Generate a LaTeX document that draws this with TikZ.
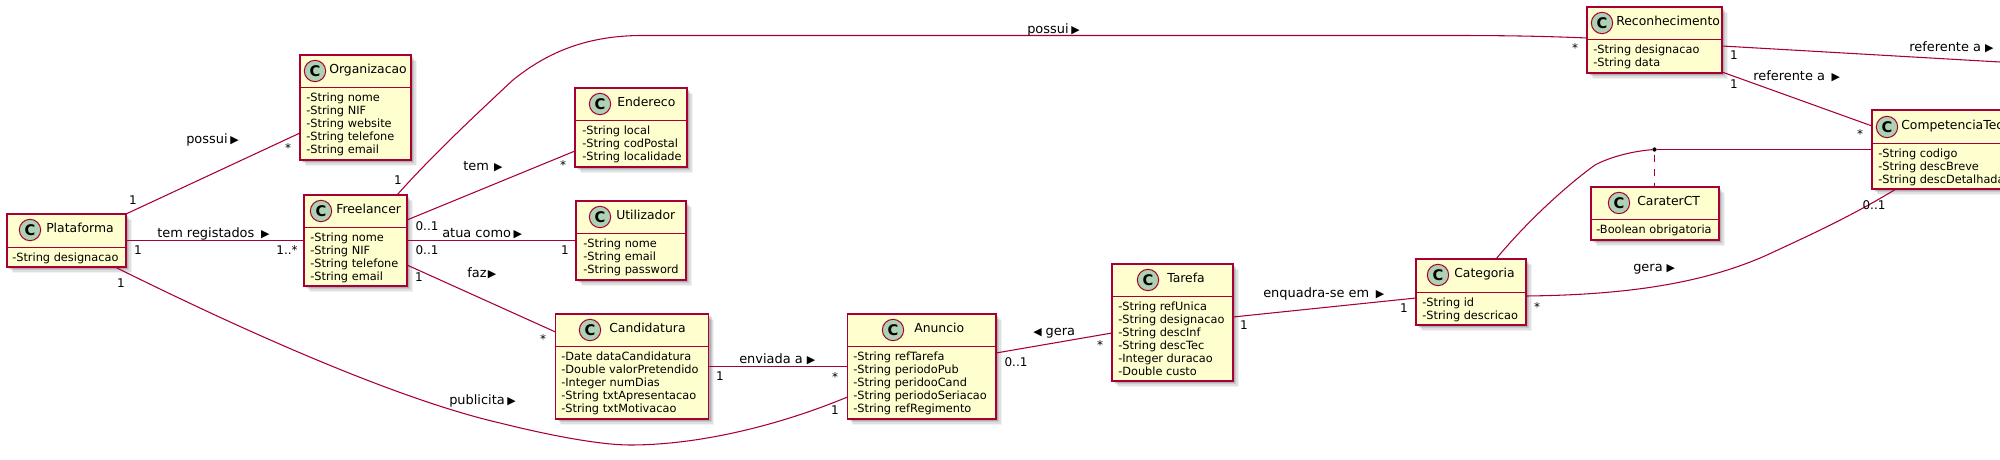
\documentclass[tikz,border=0pt]{standalone}
\usepackage{fontspec}
\setmainfont{DejaVu Sans}
\usetikzlibrary{shadows,calc}
\definecolor{umlline}{HTML}{A80036}
\definecolor{umlfill}{HTML}{FEFECE}
\definecolor{umlspot}{HTML}{ADD1B2}
\newcommand{\tit}{\fontsize{9.3pt}{11pt}\selectfont}
\newcommand{\att}{\fontsize{8.5pt}{9.75pt}\selectfont}
\newcommand{\lbl}{\fontsize{9.7pt}{11pt}\selectfont}
\newcommand{\mul}{\fontsize{9pt}{11pt}\selectfont}
\newcommand{\tri}{{\fontsize{8.2pt}{9pt}\selectfont ▶}}
\newcommand{\trl}{{\fontsize{8.2pt}{9pt}\selectfont ◀}}
\tikzset{
  classbox/.style={draw=umlline,fill=umlfill,line width=1.1pt,rectangle,inner sep=0pt,outer sep=0pt,anchor=north west,
    general shadow={shadow xshift=1.8pt,shadow yshift=-1.8pt,fill=black,opacity=.12},
    general shadow={shadow xshift=2.6pt,shadow yshift=-2.6pt,fill=black,opacity=.10},
    general shadow={shadow xshift=3.4pt,shadow yshift=-3.4pt,fill=black,opacity=.08},
    general shadow={shadow xshift=4.2pt,shadow yshift=-4.2pt,fill=black,opacity=.05}},
  spot/.style={circle,draw=umlline,fill=umlspot,line width=.75pt,minimum size=16pt,inner sep=0pt,outer sep=0pt,font=\fontsize{11pt}{11pt}\selectfont\bfseries},
  titletext/.style={anchor=west,inner sep=0pt,font=\tit},
  attrtext/.style={anchor=north west,inner sep=0pt,align=left,font=\att},
  rel/.style={draw=umlline,line width=.8pt},
  reltext/.style={anchor=base west,inner sep=0pt,font=\lbl,text=black},
  multtext/.style={anchor=base,inner sep=0pt,font=\mul,text=black},
}
\newcommand{\cls}[6]{%
  \node[classbox,minimum width={(#4-#2)*.75pt},minimum height={(#5-#3)*.75pt}] (#1) at (#2,#3) {};
  \draw[draw=umlline,line width=.75pt] (#1.west |- 0,#6) -- (#1.east |- 0,#6);}
\newcommand{\hdr}[5]{%
  \node[spot] (#1c) at (#2,#3) {C};
  \node[titletext] (#1t) at (#4,#3) {\strut #5};}
\newcommand{\attrs}[4]{\node[attrtext] (#1a) at (#2,#3+2.5) {#4};}
\newcommand{\lab}[4]{\node[reltext] (#1) at (#2,#3+4.5) {#4};}
\newcommand{\mult}[4]{\node[multtext] (#1) at (#2,#3+4.5) {#4};}
\newcommand{\mstar}[3]{\node[multtext] (#1) at (#2,#3+7) {*};}
\begin{document}
\begin{tikzpicture}[x=.75pt,y=-.75pt]
\useasboundingbox (0,0) rectangle (2000,460);
\clip (0,0) rectangle (2000,460);

\cls{plat}{7}{214}{126}{267}{247.5}
\hdr{plat}{30}{230}{46}{Plataforma}
\attrs{plat}{12}{250}{-String designacao}

\cls{org}{300}{55}{411}{160}{87.5}
\hdr{org}{315}{71}{329}{Organizacao}
\attrs{org}{306}{90}{-String nome\\-String NIF\\-String website\\-String telefone\\-String email}

\cls{free}{304}{195}{407}{286}{227.5}
\hdr{free}{321}{211}{336}{Freelancer}
\attrs{free}{310}{230}{-String nome\\-String NIF\\-String telefone\\-String email}

\cls{end}{575}{88}{687}{167}{120.5}
\hdr{end}{600}{104}{617}{Endereco}
\attrs{end}{582}{123}{-String local\\-String codPostal\\-String localidade}

\cls{util}{576}{201}{686}{280}{233.5}
\hdr{util}{600}{217}{616}{Utilizador}
\attrs{util}{583}{236}{-String nome\\-String email\\-String password}

\cls{cand}{555.5}{314}{708.5}{419}{346.5}
\hdr{cand}{590}{330}{609}{Candidatura}
\attrs{cand}{561}{349}{-Date dataCandidatura\\-Double valorPretendido\\-Integer numDias\\-String txtApresentacao\\-String txtMotivacao}

\cls{anun}{847.5}{314}{996}{419}{346.5}
\hdr{anun}{893}{330}{914}{Anuncio}
\attrs{anun}{853}{349}{-String refTarefa\\-String periodoPub\\-String peridooCand\\-String periodoSeriacao\\-String refRegimento}

\cls{tar}{1112}{264}{1233}{381}{296.5}
\hdr{tar}{1148}{280}{1167}{Tarefa}
\attrs{tar}{1118}{299}{-String refUnica\\-String designacao\\-String descInf\\-String descTec\\-Integer duracao\\-Double custo}

\cls{cat}{1416}{259}{1526}{325}{292.5}
\hdr{cat}{1438}{275}{1454}{Categoria}
\attrs{cat}{1422}{295}{-String id\\-String descricao}

\cls{rec}{1587}{7}{1722}{73}{39.5}
\hdr{rec}{1602}{23}{1616}{Reconhecimento}
\attrs{rec}{1593}{42}{-String designacao\\-String data}

\cls{car}{1591}{187}{1719}{240}{219.5}
\hdr{car}{1619}{203}{1637}{CaraterCT}
\attrs{car}{1596}{222}{-Boolean obrigatoria}

\cls{comp}{1872}{110}{2040}{189}{143.5}
\hdr{comp}{1887}{127}{1901}{CompetenciaTecnica}
\attrs{comp}{1878}{146}{-String codigo\\-String descBreve\\-String descDetalhada}

\node[circle,fill=black,inner sep=0pt,minimum size=3.2pt] (ap) at (1654.5,149.5) {};
\coordinate (recout) at (2040,64.3);

\draw[rel] (126,0 |- plat.north) -- (org.west |- 0,133);
\draw[rel] (plat.east |- 0,240.5) -- (free.west |- 0,240.5);
\draw[rel] (115,0 |- plat.south) .. controls (250,334) and (400,400) .. (500,423)
   .. controls (560,438) and (605,445) .. (630,445)
   .. controls (700,445) and (780,425) .. (anun.west |- 0,397);
\draw[rel] (397,0 |- free.north) .. controls (430,158) and (470,120) .. (513,80)
   .. controls (550,50) and (590,36) .. (640,35.5) -- (1450,35.5)
   .. controls (1500,35.5) and (1540,36) .. (rec.west |- 0,38);
\draw[rel] (free.east |- 0,220) -- (end.west |- 0,151);
\draw[rel] (free.east |- 0,240.5) -- (util.west |- 0,240.5);
\draw[rel] (free.east |- 0,265) -- (cand.west |- 0,332);
\draw[rel] (cand.east |- 0,366.5) -- (anun.west |- 0,366.5);
\draw[rel] (anun.east |- 0,353) -- (tar.west |- 0,333);
\draw[rel] (tar.east |- 0,317) -- (cat.west |- 0,298);
\draw[rel] (cat.east |- 0,296) .. controls (1620,295) and (1700,285) .. (1767,255)
   .. controls (1810,235) and (1850,217) .. (1896,0 |- comp.south);
\draw[rel] (1496,0 |- cat.north) .. controls (1530,218) and (1570,183) .. (1595,165)
   .. controls (1612,156) and (1635,151) .. (ap);
\draw[rel] (ap) -- (comp.west |- ap);
\draw[rel,dash pattern=on 5.25pt off 5.25pt,dash phase=-2pt] (ap) -- (ap |- car.north);
\draw[rel] (rec.east |- 0,72) -- (comp.west |- 0,126);
\draw[rel] (rec.east |- 0,46) -- (recout);

\lab{la}{186}{139}{possui\hspace{2pt}\tri}
\lab{lb}{157}{233}{tem registados\hspace{5pt}\tri}
\lab{lc}{449}{400}{publicita\hspace{2pt}\tri}
\lab{ld}{1027}{29}{possui\hspace{2pt}\tri}
\lab{le}{463}{166}{tem\hspace{4pt}\tri}
\lab{lf}{442}{233}{atua como\hspace{2pt}\tri}
\lab{lg}{467}{273}{faz\hspace{1pt}\tri}
\lab{lh}{739}{359}{enviada a\hspace{3pt}\tri}
\lab{li}{1033}{331}{\trl\hspace{3pt}gera}
\lab{lj}{1263}{293}{enquadra-se em\hspace{5pt}\tri}
\lab{lk}{1633}{267}{gera\hspace{3pt}\tri}
\lab{ll}{1753}{76}{referente a\hspace{5pt}\tri}
\lab{lm}{1909}{47}{referente a\hspace{3pt}\tri}

\mult{m1}{133}{200}{1}
\mstar{m2}{288}{145}
\mult{m3}{138}{250}{1}
\mult{m4}{287}{250}{1..*}
\mult{m5}{121}{283}{1}
\mult{m6}{835}{410}{1}
\mult{m7}{398}{180}{1}
\mstar{m8}{1575}{46}
\mult{m9}{427}{226}{0..1}
\mstar{m10}{563}{162}
\mult{m11}{427}{250}{0..1}
\mult{m12}{565}{250}{1}
\mult{m13}{419}{277}{1}
\mstar{m14}{543}{336}
\mult{m15}{720}{376}{1}
\mstar{m16}{835}{374}
\mult{m17}{1016}{362}{0..1}
\mstar{m18}{1100}{342}
\mult{m19}{1244}{325}{1}
\mult{m20}{1404}{308}{1}
\mstar{m21}{1537}{304}
\mult{m22}{1874}{205}{0..1}
\mult{m23}{1734}{84}{1}
\mstar{m24}{1860}{131}
\mult{m25}{1734}{55}{1}
\end{tikzpicture}
\end{document}
